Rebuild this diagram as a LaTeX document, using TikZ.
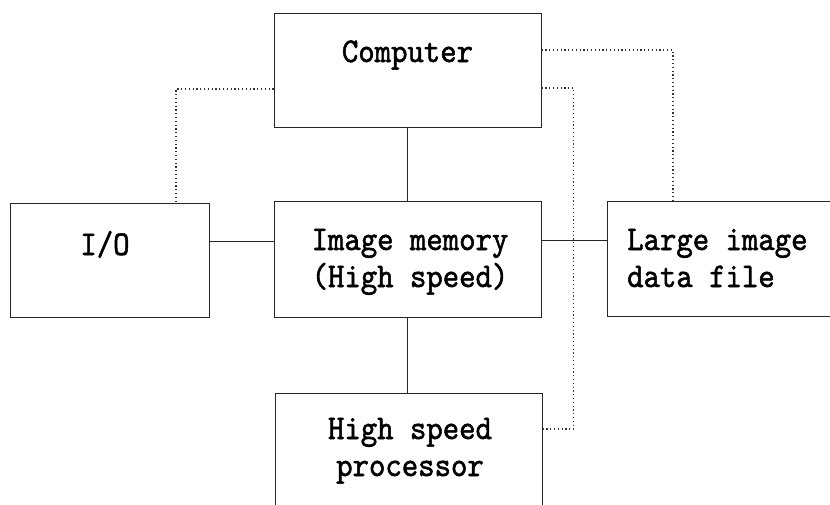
\documentclass[tikz,border=0pt]{standalone}
\usepackage{fontspec}
\newfontfamily\boxfont{lmmono10-regular.otf}[FakeStretch = 0.9, FakeBold = 1.5]

\tikzset{
    unit/.style    = {draw = black!85, line width = 1pt, inner sep = 0},
    caption/.style = {font = \boxfont\fontsize{34.7}{37}\selectfont, inner sep = 0},
    bus/.style     = {draw = black!85, line width = 1pt},
    ctrl/.style    = {draw = black!80, line width = 1.2pt, dash pattern = on 1.2pt off 2.6pt},
}

\begin{document}
\begin{tikzpicture}[x = 1pt, y = -1pt]
    \useasboundingbox (0, 0) rectangle (830, 504);
    \clip (0, 0) rectangle (830, 504);

    % boxes
    \node [unit, minimum width = 267, minimum height = 114] (computer)  at (407.5, 70)  {};
    \node [unit, minimum width = 199, minimum height = 114] (io)        at (109.5, 260) {};
    \node [unit, minimum width = 267, minimum height = 116] (memory)    at (407.5, 259) {};
    \node [unit, minimum width = 253, minimum height = 115] (datafile)  at (733.5, 258.5) {};
    \node [unit, minimum width = 267, minimum height = 147] (processor) at (408.5, 466.5) {};

    % texts (base = last line)
    \node [caption, anchor = base] (computer-t) at (407.5, 62) {Computer};
    \node [caption, anchor = base] (io-t)       at (105, 255) {I/O};
    \node [caption, anchor = base, align = center] (memory-t) at (410, 287) {Image memory\\(High speed)};
    \node [caption, anchor = base west, align = left] (datafile-t) at (627, 287) {Large image\\data file};
    \node [caption, anchor = base, align = center] (processor-t) at (410, 476) {High speed\\processor};

    % data paths
    \draw [bus] (computer) -- (memory);
    \draw [bus] ([yshift = 19pt]io.east) -- ([yshift = 19pt]io.east -| memory.west);
    \draw [bus] ([yshift = 19pt]memory.east) -- ([yshift = 19pt]memory.east -| datafile.west);
    \draw [bus] (memory.south) -- (memory.south |- processor.north);

    % control paths
    \draw [ctrl] ([yshift = -19pt]computer.west) -| ([xshift = 66.5pt]io.north);
    \draw [ctrl] ([yshift = 20pt]computer.east) -| ([xshift = -60.5pt]datafile.north);
    \draw [ctrl] ([yshift = -18pt]computer.east) -- ++(32, 0) |- ([yshift = 37.5pt]processor.east);
\end{tikzpicture}
\end{document}
